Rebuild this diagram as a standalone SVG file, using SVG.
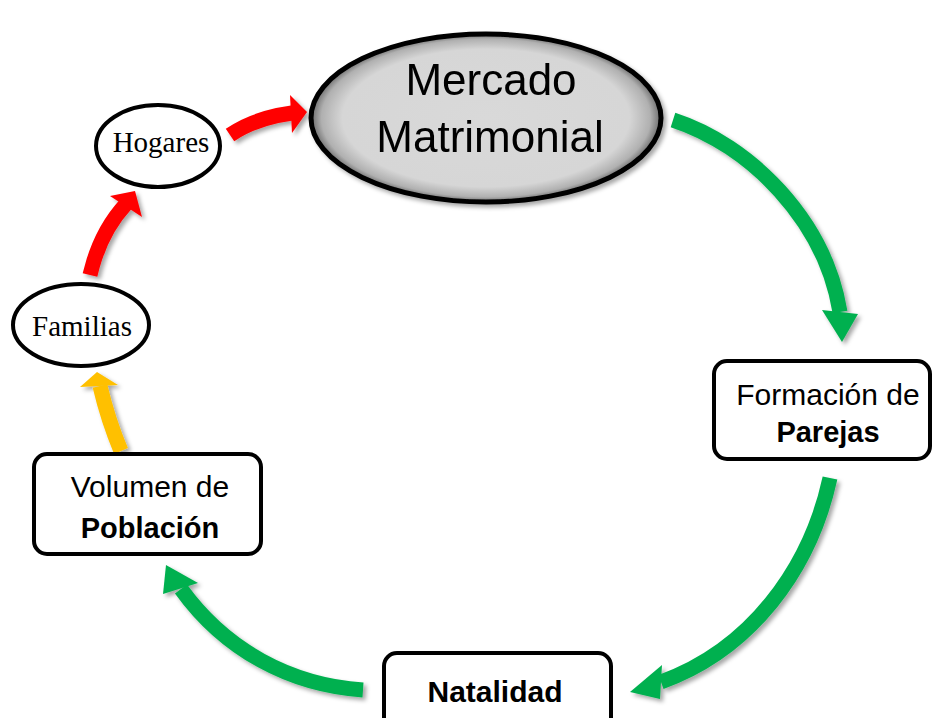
<svg xmlns="http://www.w3.org/2000/svg" width="933" height="718" viewBox="0 0 933 718">
  <defs>
    <filter id="sh" x="-20%" y="-20%" width="140%" height="140%">
      <feDropShadow dx="3" dy="3" stdDeviation="2" flood-color="#000" flood-opacity="0.35"/>
    </filter>
    <radialGradient id="gray" cx="50%" cy="50%" r="50%">
      <stop offset="0%" stop-color="#d9d9d9"/>
      <stop offset="82%" stop-color="#d6d6d6"/>
      <stop offset="94%" stop-color="#b0b0b0"/>
      <stop offset="100%" stop-color="#6a6a6a"/>
    </radialGradient>
    <style>
      .shaft { fill: none; stroke-width: 15; stroke-linecap: butt; }
      .red { stroke: #ff0000; } .redf { fill: #ff0000; }
      .grn { stroke: #00b050; } .grnf { fill: #00b050; }
      .yel { stroke: #ffc000; } .yelf { fill: #ffc000; }
      .box { fill: #ffffff; stroke: #000; stroke-width: 4; }
      .sans { font-family: "Liberation Sans", Arial, sans-serif; fill: #000; text-anchor: middle; }
      .serif { font-family: "Liberation Serif", "Times New Roman", serif; fill: #000; text-anchor: middle; }
    </style>
  </defs>

  <g id="connectors" filter="url(#sh)">
    <!-- Hogares -> Mercado -->
    <path class="shaft red" d="M 230,135 Q 255,118 292,113"/>
    <polygon class="redf" points="290,95 307,112 292,133"/>
    <!-- Familias -> Hogares -->
    <path class="shaft red" d="M 90,275 Q 100,232 126,204"/>
    <polygon class="redf" points="110,196 135,191 142,217"/>
    <!-- Volumen -> Familias -->
    <path class="shaft yel" d="M 121,451 Q 108,420 100,386"/>
    <polygon class="yelf" points="80,387 97,372 118,385"/>
    <!-- Mercado -> Parejas -->
    <path class="shaft grn" d="M 673,120 C 750,145 825,220 840,312"/>
    <polygon class="grnf" points="822,310 858,314 842,342"/>
    <!-- Parejas -> Natalidad -->
    <path class="shaft grn" d="M 830,478 C 810,570 750,650 661,682"/>
    <polygon class="grnf" points="662,665 630,692 660,699"/>
    <!-- Natalidad -> Volumen -->
    <path class="shaft grn" d="M 363,690 C 290,685 225,650 181,589"/>
    <polygon class="grnf" points="166,565 163,594 198,583"/>
  </g>

  <g id="mercado" filter="url(#sh)">
    <ellipse cx="486" cy="118" rx="175" ry="84" fill="url(#gray)" stroke="#000" stroke-width="5"/>
    <text class="sans" x="491" y="95" font-size="44">Mercado</text>
    <text class="sans" x="490" y="152" font-size="44">Matrimonial</text>
  </g>

  <g id="hogares">
    <ellipse cx="158" cy="146" rx="62" ry="41" fill="#fff" stroke="#000" stroke-width="4"/>
    <text class="serif" x="161" y="152" font-size="29">Hogares</text>
  </g>

  <g id="familias">
    <ellipse cx="81" cy="325" rx="68" ry="41" fill="#fff" stroke="#000" stroke-width="4"/>
    <text class="serif" x="82" y="336" font-size="29">Familias</text>
  </g>

  <g id="volumen">
    <rect class="box" x="34" y="454" width="227" height="100" rx="13"/>
    <text class="sans" x="150" y="497" font-size="30">Volumen de</text>
    <text class="sans" x="150" y="538" font-size="29" font-weight="bold">Población</text>
  </g>

  <g id="parejas">
    <rect class="box" x="714" y="361" width="216" height="98" rx="13"/>
    <text class="sans" x="828" y="405" font-size="30">Formación de</text>
    <text class="sans" x="828" y="442" font-size="29" font-weight="bold">Parejas</text>
  </g>

  <g id="natalidad">
    <rect class="box" x="384" y="653" width="227" height="80" rx="13"/>
    <text class="sans" x="495" y="702" font-size="30" font-weight="bold">Natalidad</text>
  </g>
</svg>
